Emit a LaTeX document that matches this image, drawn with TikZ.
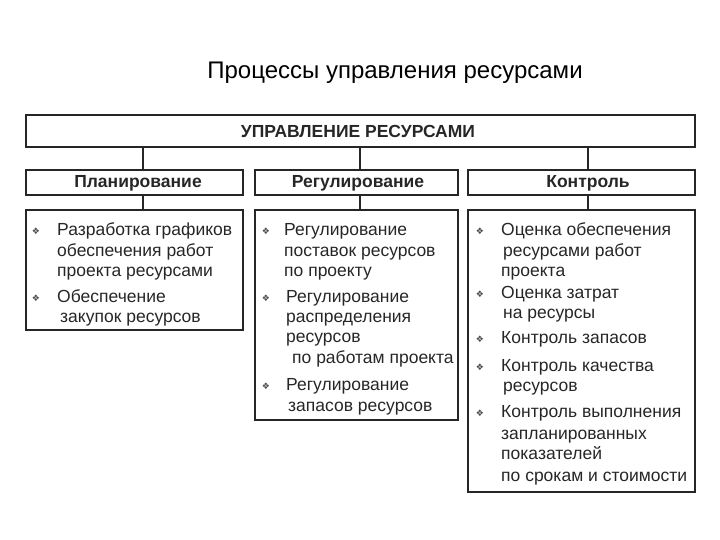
\documentclass[tikz,border=0pt]{standalone}
\usepackage{fontspec}
\setmainfont{Liberation Sans}
\newfontfamily\dejavu{DejaVu Sans}
\begin{document}
\begin{tikzpicture}[x=1pt,y=-1pt,
  bx/.style={draw=black!85,line width=1.6pt},
  ln/.style={line width=1.4pt,black!85},
  tx/.style={anchor=base west,inner sep=0pt,font=\fontsize{17.5}{17.5}\selectfont,text=black!85},
  hd/.style={font=\bfseries\fontsize{17.5}{17.5}\selectfont,text=black!85},
  bl/.style={anchor=base,inner sep=0pt,font=\dejavu\fontsize{9}{9}\selectfont,text=black!70}]
\useasboundingbox (0,0) rectangle (720,540);
\node[font=\fontsize{24}{24}\selectfont] (title) at (395,73) {Процессы управления ресурсами};
\draw[bx] (26,115) rectangle (695,147);
\node[hd] (top) at (358,131) {УПРАВЛЕНИЕ РЕСУРСАМИ};
\draw[bx] (26,170) rectangle (243,195);
\draw[bx] (255,170) rectangle (458,195);
\draw[bx] (468,170) rectangle (695,195);
\node[hd] (m1) at (138,183) {Планирование};
\node[hd] (m2) at (358,183) {Регулирование};
\node[hd] (m3) at (588,183) {Контроль};
\draw[bx] (26,210) rectangle (243,330);
\draw[bx] (255,210) rectangle (458,420);
\draw[bx] (468,210) rectangle (695,492);
\coordinate (a1) at (143,147); \coordinate (a2) at (143,170);
\coordinate (b1) at (360,147); \coordinate (b2) at (360,170);
\coordinate (c1) at (588,147); \coordinate (c2) at (588,170);
\coordinate (a3) at (143,195); \coordinate (a4) at (143,210);
\coordinate (b3) at (360,195); \coordinate (b4) at (360,210);
\coordinate (c3) at (588,195); \coordinate (c4) at (588,210);
\draw[ln] (a1)--(a2) (b1)--(b2) (c1)--(c2) (a3)--(a4) (b3)--(b4) (c3)--(c4);
% box 1
\foreach \y in {235,301} \node[bl] at (36,\y) {❖};
\node[tx] at (57,236) {Разработка графиков};
\node[tx] at (57,256) {обеспечения работ};
\node[tx] at (57,276) {проекта ресурсами};
\node[tx] at (57,302) {Обеспечение};
\node[tx] at (60,322) {закупок ресурсов};
% box 2
\foreach \y in {235,301,389} \node[bl] at (266,\y) {❖};
\node[tx] at (284,236) {Регулирование};
\node[tx] at (284,256) {поставок ресурсов};
\node[tx] at (284,276) {по проекту};
\node[tx] at (286,302) {Регулирование};
\node[tx] at (286,322) {распределения};
\node[tx] at (286,342) {ресурсов};
\node[tx] at (292,363) {по работам проекта};
\node[tx] at (286,390) {Регулирование};
\node[tx] at (288,411) {запасов ресурсов};
% box 3
\foreach \y in {235,297,342,370,416} \node[bl] at (480,\y) {❖};
\node[tx] at (501,236) {Оценка обеспечения};
\node[tx] at (503,256) {ресурсами работ};
\node[tx] at (501,276) {проекта};
\node[tx] at (501,298) {Оценка затрат};
\node[tx] at (503,318) {на ресурсы};
\node[tx] at (501,343) {Контроль запасов};
\node[tx] at (501,371) {Контроль качества};
\node[tx] at (503,391) {ресурсов};
\node[tx] at (501,417) {Контроль выполнения};
\node[tx] at (501,439) {запланированных};
\node[tx] at (501,459) {показателей};
\node[tx] at (501,481) {по срокам и стоимости};
\end{tikzpicture}
\end{document}
